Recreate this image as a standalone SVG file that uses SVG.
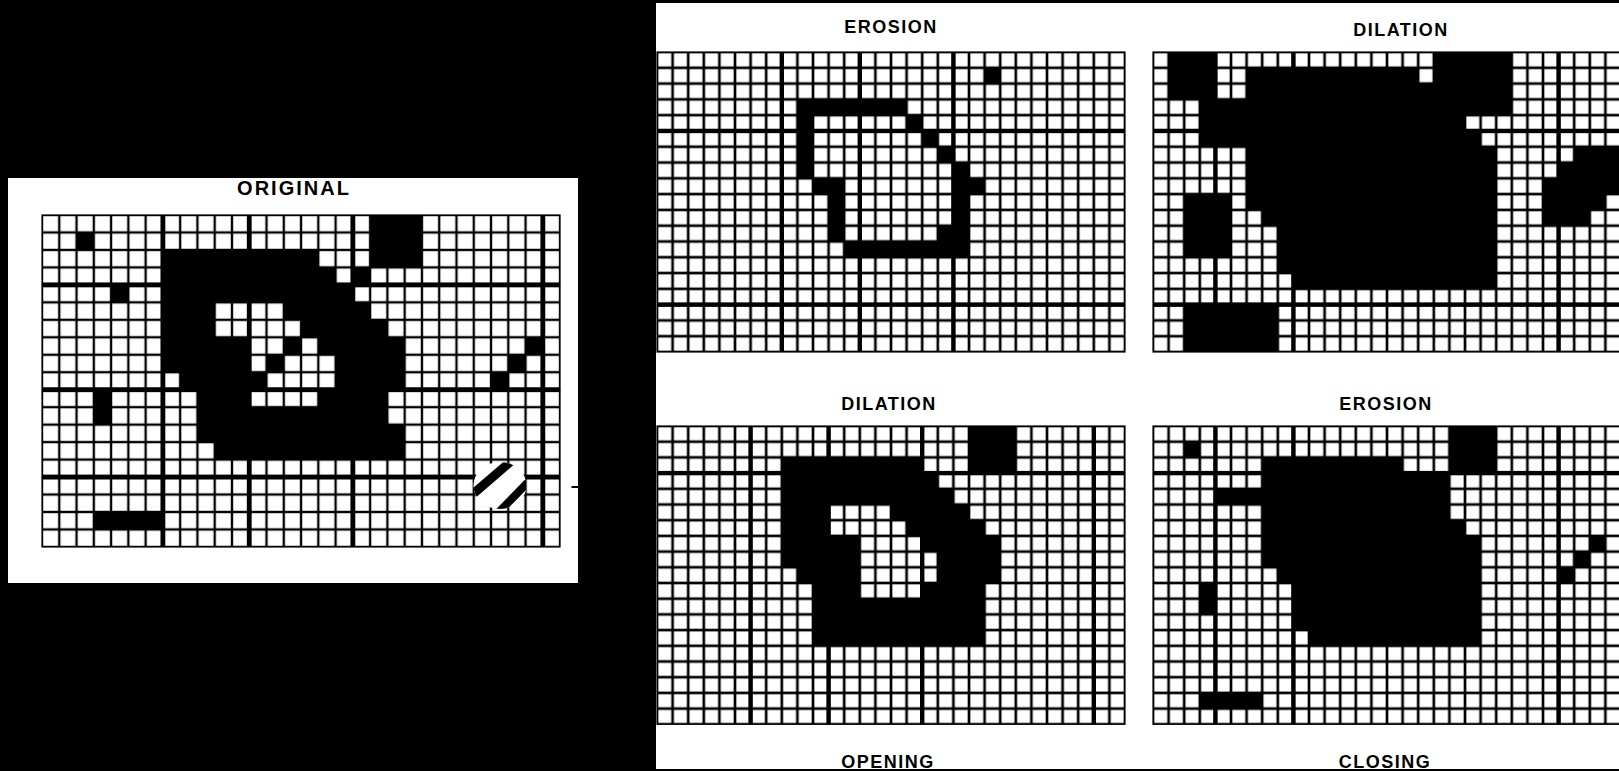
<svg xmlns="http://www.w3.org/2000/svg" width="1619" height="771" viewBox="0 0 1619 771">
<style>
.lbl{font-family:"Liberation Sans",Arial,sans-serif;font-weight:bold;font-size:18px;letter-spacing:1.5px;text-anchor:middle;fill:#000}
.k rect{fill:#000}
.t rect{fill:#000}
</style>
<defs>
<pattern id="po" x="0" y="0" width="1" height="1" patternUnits="userSpaceOnUse">
<rect width="1" height="1" fill="#000"/>
<rect x="0.068" y="0.068" width="0.864" height="0.864" fill="#fff"/>
</pattern>
<pattern id="pr" x="0" y="0" width="1" height="1" patternUnits="userSpaceOnUse">
<rect width="1" height="1" fill="#000"/>
<rect x="0.085" y="0.085" width="0.83" height="0.83" fill="#fff"/>
</pattern>
<clipPath id="hc"><ellipse cx="500" cy="485.5" rx="26.5" ry="23.5"/></clipPath>
</defs>
<rect width="1619" height="771" fill="#000"/>

<!-- left panel: original -->
<g id="panel-original">
<rect x="8" y="178" width="570" height="405" fill="#fff"/>
<text class="lbl" x="294" y="195" style="font-size:20px;letter-spacing:2px">ORIGINAL</text>
<g id="grid-original" transform="translate(42 215) scale(17.27 17.47)">
<rect width="30" height="19" fill="url(#po)"/>
<g class="k">
<rect x="19" y="0" width="3" height="3"/>
<rect x="2" y="1" width="1" height="1"/>
<rect x="7" y="2" width="9" height="1"/>
<rect x="7" y="3" width="10" height="1"/>
<rect x="18" y="3" width="1" height="1"/>
<rect x="4" y="4" width="1" height="1"/>
<rect x="7" y="4" width="11" height="1"/>
<rect x="7" y="5" width="3" height="2"/>
<rect x="14" y="5" width="5" height="1"/>
<rect x="15" y="6" width="5" height="1"/>
<rect x="7" y="7" width="5" height="2"/>
<rect x="14" y="7" width="1" height="1"/>
<rect x="16" y="7" width="5" height="1"/>
<rect x="28" y="7" width="1" height="1"/>
<rect x="13" y="8" width="1" height="1"/>
<rect x="17" y="8" width="4" height="2"/>
<rect x="27" y="8" width="1" height="1"/>
<rect x="8" y="9" width="5" height="1"/>
<rect x="26" y="9" width="1" height="1"/>
<rect x="3" y="10" width="1" height="2"/>
<rect x="9" y="10" width="3" height="1"/>
<rect x="16" y="10" width="4" height="1"/>
<rect x="9" y="11" width="11" height="1"/>
<rect x="9" y="12" width="12" height="1"/>
<rect x="10" y="13" width="11" height="1"/>
<rect x="3" y="17" width="4" height="1"/>
</g>
<g class="t">
<rect x="6.86" y="0" width="0.28" height="19"/>
<rect x="11.86" y="0" width="0.28" height="19"/>
<rect x="17.86" y="0" width="0.28" height="19"/>
<rect x="28.86" y="0" width="0.28" height="19"/>
<rect x="0" y="3.86" width="30" height="0.28"/>
<rect x="0" y="9.86" width="30" height="0.28"/>
<rect x="0" y="14.86" width="30" height="0.28"/>
</g>
</g>
<rect x="42" y="215" width="518" height="332" fill="none" stroke="#000" stroke-width="1.2"/>
<g id="hatch">
<ellipse cx="500" cy="485.5" rx="26.5" ry="23.5" fill="#fff"/>
<g clip-path="url(#hc)" stroke="#000" stroke-linecap="butt">
<line x1="466" y1="500" x2="516" y2="457" stroke-width="9"/>
<line x1="496" y1="515" x2="533" y2="477" stroke-width="8"/>
</g>
</g>
<rect x="571.5" y="486" width="6.5" height="2" fill="#000"/>
</g>

<!-- right panel -->
<rect x="656" y="3" width="963" height="766" fill="#fff"/>

<g id="panel-erosion">
<text class="lbl" x="891" y="33">EROSION</text>
<g id="grid-erosion" transform="translate(657 52) scale(15.6 15.79)">
<rect width="30" height="19" fill="url(#pr)"/>
<g class="k">
<rect x="21" y="1" width="1" height="1"/>
<rect x="9" y="3" width="7" height="1"/>
<rect x="9" y="4" width="1" height="4"/>
<rect x="16" y="4" width="1" height="1"/>
<rect x="17" y="5" width="1" height="1"/>
<rect x="18" y="6" width="1" height="1"/>
<rect x="19" y="7" width="1" height="5"/>
<rect x="10" y="8" width="2" height="1"/>
<rect x="20" y="8" width="1" height="1"/>
<rect x="11" y="9" width="1" height="3"/>
<rect x="18" y="11" width="1" height="1"/>
<rect x="12" y="12" width="8" height="1"/>
</g>
<g class="t">
<rect x="7.86" y="0" width="0.28" height="19"/>
<rect x="12.86" y="0" width="0.28" height="19"/>
<rect x="18.86" y="0" width="0.28" height="19"/>
<rect x="0" y="4.86" width="30" height="0.28"/>
<rect x="0" y="15.86" width="30" height="0.28"/>
</g>
</g>
<rect x="657" y="52" width="468" height="300" fill="none" stroke="#000" stroke-width="1.2"/>
</g>

<g id="panel-dilation">
<text class="lbl" x="1401" y="36">DILATION</text>
<g id="grid-dilation" transform="translate(1153 52) scale(15.6 15.79)">
<rect width="30" height="19" fill="url(#pr)"/>
<g class="k">
<rect x="1" y="0" width="3" height="3"/>
<rect x="18" y="0" width="5" height="2"/>
<rect x="6" y="1" width="11" height="1"/>
<rect x="6" y="2" width="17" height="1"/>
<rect x="3" y="3" width="20" height="1"/>
<rect x="3" y="4" width="17" height="1"/>
<rect x="3" y="5" width="18" height="1"/>
<rect x="6" y="6" width="16" height="4"/>
<rect x="7" y="10" width="15" height="1"/>
<rect x="8" y="11" width="14" height="3"/>
<rect x="9" y="14" width="13" height="1"/>
<rect x="2" y="9" width="3" height="4"/>
<rect x="27" y="6" width="3" height="1"/>
<rect x="26" y="7" width="4" height="1"/>
<rect x="25" y="8" width="5" height="1"/>
<rect x="25" y="9" width="4" height="1"/>
<rect x="25" y="10" width="3" height="1"/>
<rect x="2" y="16" width="6" height="3"/>
</g>
<g class="t">
<rect x="3.86" y="0" width="0.28" height="19"/>
<rect x="8.86" y="0" width="0.28" height="19"/>
<rect x="25.86" y="0" width="0.28" height="19"/>
<rect x="0" y="4.86" width="30" height="0.28"/>
<rect x="0" y="15.86" width="30" height="0.28"/>
</g>
</g>
<rect x="1153" y="52" width="468" height="300" fill="none" stroke="#000" stroke-width="1.2"/>
</g>

<g id="panel-opening">
<text class="lbl" x="889" y="410">DILATION</text>
<g id="grid-opening" transform="translate(657 426) scale(15.6 15.7)">
<rect width="30" height="19" fill="url(#pr)"/>
<g class="k">
<rect x="20" y="0" width="3" height="3"/>
<rect x="8" y="2" width="9" height="1"/>
<rect x="8" y="3" width="10" height="1"/>
<rect x="8" y="4" width="11" height="1"/>
<rect x="8" y="5" width="3" height="2"/>
<rect x="15" y="5" width="5" height="1"/>
<rect x="16" y="6" width="5" height="1"/>
<rect x="8" y="7" width="5" height="2"/>
<rect x="17" y="7" width="5" height="1"/>
<rect x="18" y="8" width="4" height="2"/>
<rect x="9" y="9" width="4" height="1"/>
<rect x="10" y="10" width="3" height="1"/>
<rect x="17" y="10" width="4" height="1"/>
<rect x="10" y="11" width="11" height="3"/>
</g>
<g class="t">
<rect x="5.86" y="0" width="0.28" height="19"/>
<rect x="10.86" y="0" width="0.28" height="19"/>
<rect x="16.86" y="0" width="0.28" height="19"/>
<rect x="27.86" y="0" width="0.28" height="19"/>
<rect x="0" y="2.86" width="30" height="0.28"/>
</g>
</g>
<rect x="657" y="426" width="468" height="298.3" fill="none" stroke="#000" stroke-width="1.2"/>
<text class="lbl" x="888" y="768">OPENING</text>
</g>

<g id="panel-closing">
<text class="lbl" x="1386" y="410">EROSION</text>
<g id="grid-closing" transform="translate(1153 426) scale(15.6 15.7)">
<rect width="30" height="19" fill="url(#pr)"/>
<g class="k">
<rect x="19" y="0" width="3" height="3"/>
<rect x="2" y="1" width="1" height="1"/>
<rect x="7" y="2" width="9" height="1"/>
<rect x="7" y="3" width="12" height="1"/>
<rect x="4" y="4" width="15" height="1"/>
<rect x="7" y="5" width="12" height="1"/>
<rect x="7" y="6" width="13" height="1"/>
<rect x="7" y="7" width="14" height="2"/>
<rect x="8" y="9" width="13" height="1"/>
<rect x="9" y="10" width="12" height="3"/>
<rect x="10" y="13" width="11" height="1"/>
<rect x="3" y="10" width="1" height="2"/>
<rect x="28" y="7" width="1" height="1"/>
<rect x="27" y="8" width="1" height="1"/>
<rect x="26" y="9" width="1" height="1"/>
<rect x="3" y="17" width="4" height="1"/>
</g>
<g class="t">
<rect x="3.86" y="0" width="0.28" height="19"/>
<rect x="8.86" y="0" width="0.28" height="19"/>
<rect x="25.86" y="0" width="0.28" height="19"/>
<rect x="0" y="2.86" width="30" height="0.28"/>
</g>
</g>
<rect x="1153" y="426" width="468" height="298.3" fill="none" stroke="#000" stroke-width="1.2"/>
<text class="lbl" x="1385" y="768">CLOSING</text>
</g>
<rect x="656" y="769" width="963" height="2" fill="#000"/>
</svg>
